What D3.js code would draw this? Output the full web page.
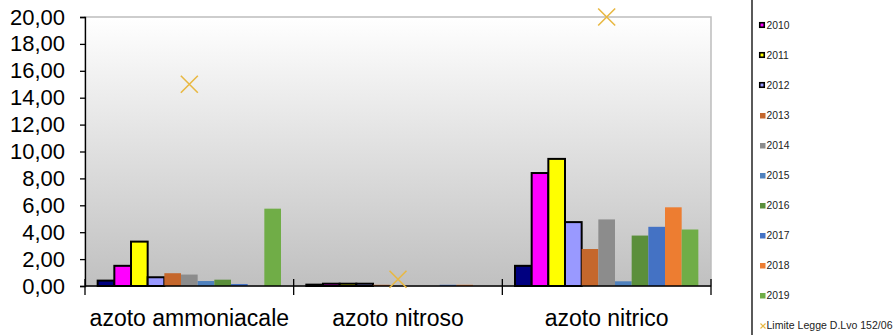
<!DOCTYPE html>
<html>
<head>
<meta charset="utf-8">
<script src="https://cdn.jsdelivr.net/npm/d3@7"></script>
<style>
  html, body { margin: 0; padding: 0; background: #fff; }
  svg { display: block; font-family: "Liberation Sans", Arial, sans-serif; }
</style>
</head>
<body>
<svg id="chart" width="894" height="335"></svg>
<script>
// Parametri analizzati (mg/l)
const categories = ["azoto ammoniacale", "azoto nitroso", "azoto nitrico"];
const years = ["2009", "2010", "2011", "2012", "2013", "2014", "2015", "2016", "2017", "2018", "2019"];
const yearColors = ["#000080", "#ff00ff", "#ffff00", "#9999ff", "#c5672c", "#8c8c8c",
                    "#4f81bd", "#5b8f3b", "#4472c4", "#ed7d31", "#70ad47"];
const outlinedYears = ["2009", "2010", "2011", "2012"];

// Valori per anno, nell'ordine delle categorie
const v2009 = [0.40, 0.10, 1.50];
const v2010 = [1.50, 0.17, 8.40];
const v2011 = [3.30, 0.17, 9.45];
const v2012 = [0.65, 0.17, 4.75];
const v2013 = [0.95, 0.09, 2.75];
const v2014 = [0.85, 0.00, 4.95];
const v2015 = [0.37, 0.00, 0.35];
const v2016 = [0.47, 0.00, 3.75];
const v2017 = [0.15, 0.09, 4.40];
const v2018 = [0.00, 0.09, 5.85];
const v2019 = [5.75, 0.00, 4.20];
const seriesValues = [v2009, v2010, v2011, v2012, v2013, v2014, v2015, v2016, v2017, v2018, v2019];

// Limite di legge D.Lvo 152/06
const limitLabel = "Limite Legge D.Lvo 152/06";
const limitValues = [15, 0.5, 20];

const yTicks = [0, 2, 4, 6, 8, 10, 12, 14, 16, 18, 20];

const svg = d3.select("#chart");
const plot = { left: 85, top: 17, right: 711, bottom: 286 };

const x0 = d3.scaleBand().domain(categories).range([plot.left, plot.right]).padding(0);
const x1 = d3.scaleBand().domain(years).range([0, x0.bandwidth()]).paddingInner(0).paddingOuter(0.76);
const y = d3.scaleLinear().domain([0, 20]).range([plot.bottom, plot.top]);
const color = d3.scaleOrdinal().domain(years).range(yearColors);

// Sfondo sfumato dell'area del grafico
const defs = svg.append("defs");
const grad = defs.append("linearGradient").attr("id", "bg").attr("x1", 0).attr("y1", 0).attr("x2", 0).attr("y2", 1);
grad.append("stop").attr("offset", "0%").attr("stop-color", "#ffffff");
grad.append("stop").attr("offset", "100%").attr("stop-color", "#c0c0c0");

svg.append("rect")
  .attr("x", plot.left).attr("y", plot.top)
  .attr("width", plot.right - plot.left).attr("height", plot.bottom - plot.top)
  .attr("fill", "url(#bg)")
  .attr("stroke", "#bdbdbd").attr("stroke-width", 1.5);

// Barre
const groups = svg.append("g").selectAll("g")
  .data(categories)
  .join("g")
  .attr("transform", c => `translate(${x0(c)},0)`);

groups.selectAll("rect")
  .data((c, ci) => years.map((yr, si) => ({ year: yr, value: seriesValues[si][ci] })))
  .join("rect")
  .filter(d => d.value > 0)
  .attr("x", d => x1(d.year))
  .attr("y", d => y(d.value))
  .attr("width", x1.bandwidth())
  .attr("height", d => y(0) - y(d.value))
  .attr("fill", d => color(d.year))
  .attr("stroke", d => outlinedYears.includes(d.year) ? "#000" : "none")
  .attr("stroke-width", 2);

// Asse Y
const yAxis = svg.append("g")
  .attr("transform", `translate(${plot.left},0)`)
  .call(d3.axisLeft(y).tickValues(yTicks).tickSize(5).tickPadding(15)
    .tickFormat(d => d3.format(".2f")(d).replace(".", ",")));
yAxis.select(".domain").attr("stroke", "#000").attr("stroke-width", 1.3);
yAxis.selectAll(".tick line").attr("stroke", "#000").attr("stroke-width", 1.3);
yAxis.selectAll(".tick text")
  .attr("font-size", 22).attr("fill", "#000")
  .attr("font-family", "'Liberation Sans', Arial, sans-serif");

// Asse X con tacche sui bordi delle categorie
const xAxis = svg.append("g");
xAxis.append("line")
  .attr("x1", plot.left).attr("x2", plot.right)
  .attr("y1", y(0)).attr("y2", y(0))
  .attr("stroke", "#000").attr("stroke-width", 1.3);
const edges = categories.map(c => x0(c)).concat([x0.range()[1]]);
xAxis.selectAll("line.edge")
  .data(edges)
  .join("line")
  .attr("class", "edge")
  .attr("x1", d => d).attr("x2", d => d)
  .attr("y1", y(0) - 7).attr("y2", y(0) + 9)
  .attr("stroke", "#000").attr("stroke-width", 1.3);
xAxis.selectAll("text")
  .data(categories)
  .join("text")
  .attr("x", c => x0(c) + x0.bandwidth() / 2)
  .attr("y", 326)
  .attr("text-anchor", "middle")
  .attr("font-size", 23)
  .attr("fill", "#000")
  .text(c => c);

// Limite di legge (croci)
const crossHalf = 8.5;
svg.append("g").selectAll("path")
  .data(categories.map((c, i) => ({ c, v: limitValues[i] })))
  .join("path")
  .attr("d", d => {
    const cx = x0(d.c) + x0.bandwidth() / 2, cy = y(d.v);
    return `M${cx - crossHalf},${cy - crossHalf}L${cx + crossHalf},${cy + crossHalf}` +
           `M${cx - crossHalf},${cy + crossHalf}L${cx + crossHalf},${cy - crossHalf}`;
  })
  .attr("stroke", "#e8b842").attr("stroke-width", 1.6).attr("fill", "none");

// Legenda (scorre oltre il bordo superiore: si disegnano solo le voci visibili)
const legend = svg.append("g");
legend.append("line")
  .attr("x1", 752).attr("x2", 752).attr("y1", 0).attr("y2", 335)
  .attr("stroke", "#000").attr("stroke-width", 1.3);

const legendY = d3.scalePoint().domain(years.concat([limitLabel])).range([-5, 325]);

const items = legend.selectAll("g.item")
  .data(years.filter(d => legendY(d) > 0))
  .join("g")
  .attr("class", "item")
  .attr("transform", d => `translate(759,${legendY(d)})`);
items.append("rect")
  .attr("x", d => outlinedYears.includes(d) ? 0.75 : 1)
  .attr("y", d => outlinedYears.includes(d) ? -2.25 : -2)
  .attr("width", d => outlinedYears.includes(d) ? 4.5 : 5.5)
  .attr("height", d => outlinedYears.includes(d) ? 4.5 : 5.5)
  .attr("fill", d => color(d))
  .attr("stroke", d => outlinedYears.includes(d) ? "#000" : "none")
  .attr("stroke-width", 1.6);
items.append("text")
  .attr("x", 7.5).attr("y", 3.8)
  .attr("font-size", 10.3).attr("fill", "#222")
  .text(d => d);

const limItem = legend.append("g").attr("transform", `translate(759,${legendY(limitLabel)})`);
limItem.append("path")
  .attr("d", "M1.5,-1.5L6.5,3.5M1.5,3.5L6.5,-1.5")
  .attr("stroke", "#e8b842").attr("stroke-width", 1.2).attr("fill", "none");
limItem.append("text")
  .attr("x", 7.5).attr("y", 3.8)
  .attr("font-size", 10.3).attr("fill", "#222")
  .attr("textLength", 126).attr("lengthAdjust", "spacingAndGlyphs")
  .text(limitLabel);
</script>
</body>
</html>
